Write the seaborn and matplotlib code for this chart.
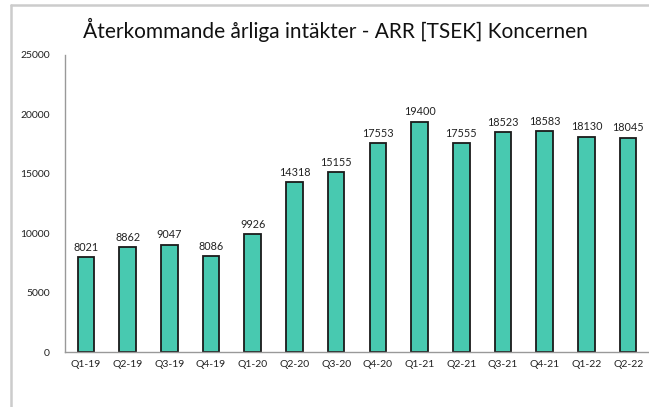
import matplotlib
matplotlib.use("Agg")
import matplotlib.pyplot as plt
import seaborn as sns
import pandas as pd
from matplotlib.lines import Line2D

quarters = ["Q1-19", "Q2-19", "Q3-19", "Q4-19", "Q1-20", "Q2-20", "Q3-20",
            "Q4-20", "Q1-21", "Q2-21", "Q3-21", "Q4-21", "Q1-22", "Q2-22"]
arr_values = [8021, 8862, 9047, 8086, 9926, 14318, 15155,
              17553, 19400, 17555, 18523, 18583, 18130, 18045]
title = "Återkommande årliga intäkter - ARR [TSEK] Koncernen"
yticks = [0, 5000, 10000, 15000, 20000, 25000]

sns.set_theme(style="white")
plt.rcParams["font.family"] = ["Lato", "DejaVu Sans"]

df = pd.DataFrame({"quarter": quarters, "value": arr_values})

fig = plt.figure(figsize=(6.49, 4.07), dpi=100)
ax = fig.add_axes([65/649, 1-352/407, 584/649, (352-55)/407])

sns.barplot(data=df, x="quarter", y="value", color="#48C9B0", saturation=1,
            width=0.4, edgecolor="#1a1a1a", linewidth=1.3, ax=ax)

ax.set_xlim(-0.5, len(quarters) - 0.5)
ax.set_ylim(0, 25000)
ax.set_yticks(yticks)
ax.set_yticklabels([str(v) for v in yticks], fontsize=7.5, color="#222222")
ax.set_xticks(range(len(quarters)))
ax.set_xticklabels(quarters, fontsize=7.5, color="#222222")
ax.set_xlabel("")
ax.set_ylabel("")
ax.tick_params(axis="x", length=0, pad=6)
ax.tick_params(axis="y", length=0, pad=11)
for s in ["top", "right"]:
    ax.spines[s].set_visible(False)
for s in ["left", "bottom"]:
    ax.spines[s].set_color("#999999")
    ax.spines[s].set_linewidth(1.0)

# boundary tick marks on x-axis
ax.set_xticks([i - 0.5 for i in range(len(quarters) + 1)], minor=True)
ax.tick_params(axis="x", which="minor", length=4, color="#999999", width=1, direction="out")

for i, v in enumerate(arr_values):
    ax.text(i, v + 350, str(v), ha="center", va="bottom", fontsize=7.8, color="#222222")

fig.text(335/649, 1-30/407, title, ha="center", va="center", fontsize=15, color="#111111")

# outer frame lines
fig.add_artist(Line2D([10.5/649, 10.5/649], [0, 1-4.5/407], transform=fig.transFigure,
                      color="#cccccc", linewidth=1.8))
fig.add_artist(Line2D([10.5/649, 1], [1-4.5/407, 1-4.5/407], transform=fig.transFigure,
                      color="#cccccc", linewidth=1.8))

fig.savefig("out.png", dpi=100)
